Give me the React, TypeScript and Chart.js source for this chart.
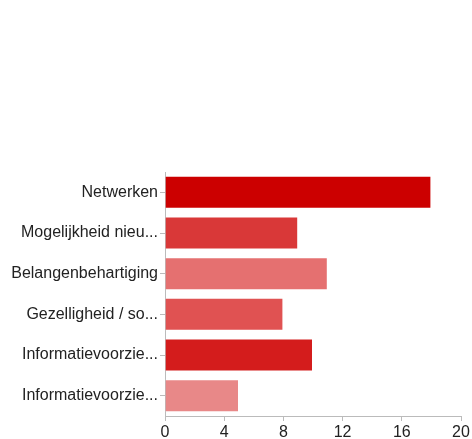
import React, { useEffect, useRef } from "react";
import { Chart, registerables } from "chart.js";

Chart.register(...registerables);

const categories = [
  "Netwerken",
  "Mogelijkheid nieu...",
  "Belangenbehartiging",
  "Gezelligheid / so...",
  "Informatievoorzie...",
  "Informatievoorzie...",
];
const values = [18, 9, 11, 8, 10, 5];
const barColors = ["#cc0000", "#d93838", "#e57070", "#e05252", "#d41c1c", "#e88888"];
const xTicks = [0, 4, 8, 12, 16, 20];

export default function App() {
  const ref = useRef<HTMLCanvasElement>(null);
  useEffect(() => {
    if (!ref.current) return;
    const font = { family: "'Liberation Sans', Arial, sans-serif", size: 16 };
    const chart = new Chart(ref.current, {
      type: "bar",
      data: {
        labels: categories,
        datasets: [
          {
            data: values,
            backgroundColor: barColors,
            borderColor: "rgba(255,255,255,0.5)",
            borderWidth: 1,
            barPercentage: 0.81,
            categoryPercentage: 1,
          },
        ],
      },
      options: {
        indexAxis: "y",
        animation: false,
        responsive: false,
        devicePixelRatio: 1,
        layout: { padding: { top: 172, right: 11, left: 0, bottom: 0 } },
        plugins: { legend: { display: false }, tooltip: { enabled: false } },
        scales: {
          x: {
            min: 0,
            max: 20,
            afterBuildTicks: (s: any) => {
              s.ticks = xTicks.map((v) => ({ value: v }));
            },
            afterFit: (s: any) => {
              s.height = 23;
            },
            ticks: { color: "#222", font, padding: 2, maxRotation: 0 },
            grid: { drawOnChartArea: false, tickLength: 5, color: "#bbb" },
            border: { color: "#bbb", width: 1 },
          },
          y: {
            afterFit: (s: any) => {
              s.width = 165;
            },
            ticks: { color: "#222", font, padding: 2 },
            grid: { drawOnChartArea: false, tickLength: 5, color: "#bbb", offset: false },
            border: { color: "#bbb", width: 1 },
          },
        },
      },
    });
    return () => chart.destroy();
  }, []);
  return (
    <div style={{ position: "fixed", left: 0, top: 0, width: 472, height: 439, background: "#fff" }}>
      <canvas ref={ref} width={472} height={439} style={{ width: 472, height: 439 }} />
    </div>
  );
}
